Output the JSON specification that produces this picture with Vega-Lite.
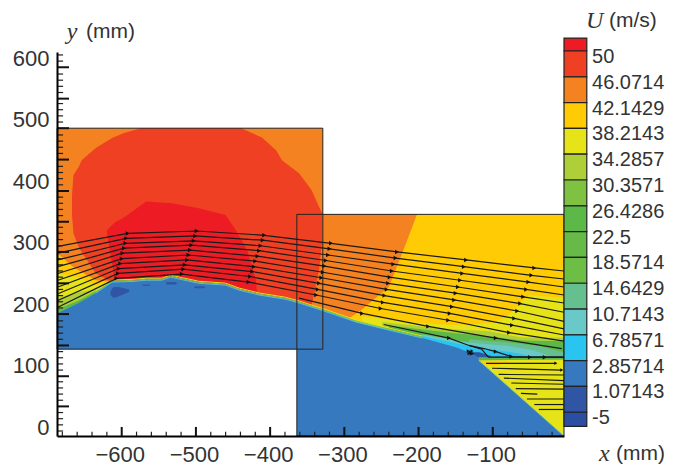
{"$schema":"https://vega.github.io/schema/vega-lite/v6.json","padding":{"left":12,"top":9,"right":0,"bottom":0},"spacing":0,"bounds":"flush","config":{"view":{"stroke":null}},
"datasets":{
"regions":[
{"r":"Rbase","b":"b3","x":-364,"y":346,"y0":100},{"r":"Rbase","b":"b3","x":-4,"y":346,"y0":100},
{"r":"Rorange","b":"b2","x":-364,"y":346,"y0":205},{"r":"Rorange","b":"b2","x":-330,"y":346,"y0":192},{"r":"Rorange","b":"b2","x":-294,"y":346,"y0":177},{"r":"Rorange","b":"b2","x":-278,"y":346,"y0":190},{"r":"Rorange","b":"b2","x":-240,"y":346,"y0":228},{"r":"Rorange","b":"b2","x":-222,"y":346,"y0":283},{"r":"Rorange","b":"b2","x":-202,"y":346,"y0":346},
{"r":"Ryellow","b":"b4","x":-276,"y":180,"y0":100},{"r":"Ryellow","b":"b4","x":-195,"y":169,"y0":100},{"r":"Ryellow","b":"b4","x":-150,"y":166,"y0":100},{"r":"Ryellow","b":"b4","x":-105,"y":169,"y0":100},{"r":"Ryellow","b":"b4","x":-82,"y":179,"y0":100},{"r":"Ryellow","b":"b4","x":-51,"y":215,"y0":100},{"r":"Ryellow","b":"b4","x":-4,"y":210,"y0":100},
{"r":"Rlime","b":"b5","x":-249,"y":171,"y0":100},{"r":"Rlime","b":"b5","x":-195,"y":164,"y0":100},{"r":"Rlime","b":"b5","x":-150,"y":159,"y0":100},{"r":"Rlime","b":"b5","x":-105,"y":156,"y0":100},{"r":"Rlime","b":"b5","x":-61,"y":146,"y0":100},{"r":"Rlime","b":"b5","x":-4,"y":146,"y0":100},
{"r":"Rgreen","b":"b7","x":-240,"y":166,"y0":100},{"r":"Rgreen","b":"b7","x":-195,"y":159,"y0":100},{"r":"Rgreen","b":"b7","x":-150,"y":153,"y0":100},{"r":"Rgreen","b":"b7","x":-105,"y":148,"y0":100},{"r":"Rgreen","b":"b7","x":-61,"y":141,"y0":100},{"r":"Rgreen","b":"b7","x":-4,"y":140,"y0":100},
{"r":"Rmint","b":"b10","x":-132,"y":143,"y0":100},{"r":"Rmint","b":"b10","x":-78,"y":138,"y0":100},{"r":"Rmint","b":"b10","x":-38,"y":132,"y0":100},{"r":"Rmint","b":"b10","x":-4,"y":122,"y0":100},
{"r":"Rteal","b":"b11","x":-195,"y":151,"y0":100},{"r":"Rteal","b":"b11","x":-132,"y":138,"y0":100},{"r":"Rteal","b":"b11","x":-78,"y":132,"y0":100},{"r":"Rteal","b":"b11","x":-44,"y":125,"y0":100},{"r":"Rteal","b":"b11","x":-22,"y":115,"y0":100},
{"r":"Rcyan","b":"b12","x":-195,"y":148,"y0":100},{"r":"Rcyan","b":"b12","x":-132,"y":132,"y0":100},{"r":"Rcyan","b":"b12","x":-92,"y":125,"y0":100},{"r":"Rcyan","b":"b12","x":-65,"y":120,"y0":100},{"r":"Rcyan","b":"b12","x":-51,"y":115,"y0":100},
{"r":"Rblue","b":"b13","x":-364,"y":203,"y0":-14},{"r":"Rblue","b":"b13","x":-330,"y":192,"y0":-14},{"r":"Rblue","b":"b13","x":-284,"y":171,"y0":-14},{"r":"Rblue","b":"b13","x":-240,"y":158,"y0":-14},{"r":"Rblue","b":"b13","x":-195,"y":145,"y0":-14},{"r":"Rblue","b":"b13","x":-150,"y":130,"y0":-14},{"r":"Rblue","b":"b13","x":-132,"y":122,"y0":-14},{"r":"Rblue","b":"b13","x":-105,"y":115,"y0":-14},{"r":"Rblue","b":"b13","x":-4,"y":115,"y0":-14},
{"r":"Rdark","b":"b14","x":-128,"y":122,"y0":120},{"r":"Rdark","b":"b14","x":-118,"y":122,"y0":113},{"r":"Rdark","b":"b14","x":-102,"y":116,"y0":113},
{"r":"Rchannel","b":"b7","x":-119,"y":114,"y0":109},{"r":"Rchannel","b":"b7","x":-4,"y":114,"y0":110},
{"r":"Rwedge","b":"b4","x":-119,"y":109,"y0":109},{"r":"Rwedge","b":"b4","x":-4,"y":110,"y0":-14},
{"r":"Rpatch","b":"b3","x":-115,"y":107,"y0":105},{"r":"Rpatch","b":"b3","x":-100,"y":107,"y0":100},{"r":"Rpatch","b":"b3","x":-78,"y":107,"y0":105},
{"r":"Lbase","b":"b2","x":-687,"y":486,"y0":127},{"r":"Lbase","b":"b2","x":-329,"y":486,"y0":127},
{"r":"Lhot","b":"b1","x":-667,"y":377,"y0":345},{"r":"Lhot","b":"b1","x":-665,"y":410,"y0":315},{"r":"Lhot","b":"b1","x":-658,"y":423,"y0":293},{"r":"Lhot","b":"b1","x":-654,"y":434,"y0":285},{"r":"Lhot","b":"b1","x":-635,"y":454,"y0":250},{"r":"Lhot","b":"b1","x":-613,"y":470,"y0":236},{"r":"Lhot","b":"b1","x":-597,"y":478,"y0":237},{"r":"Lhot","b":"b1","x":-574,"y":486,"y0":237},{"r":"Lhot","b":"b1","x":-439,"y":486,"y0":221},{"r":"Lhot","b":"b1","x":-411,"y":471,"y0":214},{"r":"Lhot","b":"b1","x":-392,"y":450,"y0":211},{"r":"Lhot","b":"b1","x":-384,"y":434,"y0":209},{"r":"Lhot","b":"b1","x":-361,"y":413,"y0":202},{"r":"Lhot","b":"b1","x":-344,"y":385,"y0":198},{"r":"Lhot","b":"b1","x":-334,"y":358,"y0":255},{"r":"Lhot","b":"b1","x":-330,"y":348,"y0":299},
{"r":"Lred","b":"b0","x":-620,"y":320,"y0":317},{"r":"Lred","b":"b0","x":-609,"y":333,"y0":237},{"r":"Lred","b":"b0","x":-597,"y":341,"y0":237},{"r":"Lred","b":"b0","x":-567,"y":367,"y0":239},{"r":"Lred","b":"b0","x":-532,"y":364,"y0":242},{"r":"Lred","b":"b0","x":-496,"y":356,"y0":234},{"r":"Lred","b":"b0","x":-460,"y":345,"y0":231},{"r":"Lred","b":"b0","x":-446,"y":320,"y0":226},{"r":"Lred","b":"b0","x":-431,"y":288,"y0":220},{"r":"Lred","b":"b0","x":-419,"y":239,"y0":216},{"r":"Lred","b":"b0","x":-418,"y":223,"y0":216},
{"r":"Fan3","b":"b3","x":-687,"y":283,"y0":180},{"r":"Fan3","b":"b3","x":-665,"y":260,"y0":190},{"r":"Fan3","b":"b3","x":-635,"y":239,"y0":210},{"r":"Fan3","b":"b3","x":-613,"y":236,"y0":230},
{"r":"Fan4","b":"b4","x":-687,"y":250,"y0":180},{"r":"Fan4","b":"b4","x":-658,"y":244,"y0":190},{"r":"Fan4","b":"b4","x":-635,"y":231,"y0":210},{"r":"Fan4","b":"b4","x":-613,"y":236,"y0":230},
{"r":"Fan5","b":"b5","x":-687,"y":210,"y0":180},{"r":"Fan5","b":"b5","x":-658,"y":220,"y0":190},{"r":"Fan5","b":"b5","x":-635,"y":224,"y0":210},{"r":"Fan5","b":"b5","x":-613,"y":236,"y0":230},
{"r":"Fan7","b":"b7","x":-687,"y":192,"y0":180},{"r":"Fan7","b":"b7","x":-658,"y":206,"y0":190},{"r":"Fan7","b":"b7","x":-635,"y":221,"y0":210},{"r":"Fan7","b":"b7","x":-613,"y":236,"y0":230},
{"r":"Lblue","b":"b13","x":-687,"y":185,"y0":127},{"r":"Lblue","b":"b13","x":-658,"y":202,"y0":127},{"r":"Lblue","b":"b13","x":-635,"y":218,"y0":127},{"r":"Lblue","b":"b13","x":-613,"y":236,"y0":127},{"r":"Lblue","b":"b13","x":-586,"y":237,"y0":127},{"r":"Lblue","b":"b13","x":-567,"y":239,"y0":127},{"r":"Lblue","b":"b13","x":-546,"y":239,"y0":127},{"r":"Lblue","b":"b13","x":-534,"y":244,"y0":127},{"r":"Lblue","b":"b13","x":-523,"y":241,"y0":127},{"r":"Lblue","b":"b13","x":-496,"y":234,"y0":127},{"r":"Lblue","b":"b13","x":-460,"y":231,"y0":127},{"r":"Lblue","b":"b13","x":-442,"y":223,"y0":127},{"r":"Lblue","b":"b13","x":-415,"y":215,"y0":127},{"r":"Lblue","b":"b13","x":-379,"y":208,"y0":127},{"r":"Lblue","b":"b13","x":-361,"y":202,"y0":127},{"r":"Lblue","b":"b13","x":-329,"y":190,"y0":127},
{"r":"Blob1","b":"b14","x":-615,"y":221,"y0":215},{"r":"Blob1","b":"b14","x":-611,"y":228,"y0":210},{"r":"Blob1","b":"b14","x":-604,"y":228,"y0":213},{"r":"Blob1","b":"b14","x":-590,"y":224,"y0":220},
{"r":"Blob2","b":"b14","x":-572,"y":232,"y0":230},{"r":"Blob2","b":"b14","x":-562,"y":232,"y0":230},
{"r":"Blob3","b":"b14","x":-540,"y":236,"y0":232},{"r":"Blob3","b":"b14","x":-526,"y":236,"y0":232},
{"r":"Blob4","b":"b14","x":-502,"y":229,"y0":226},{"r":"Blob4","b":"b14","x":-488,"y":229,"y0":226}
],
"wall":[{"x":-635,"y":218},{"x":-613,"y":236},{"x":-586,"y":237},{"x":-567,"y":239},{"x":-546,"y":239},{"x":-534,"y":244},{"x":-523,"y":241},{"x":-496,"y":234},{"x":-460,"y":231},{"x":-442,"y":223},{"x":-415,"y":215},{"x":-379,"y":208},{"x":-361,"y":202},{"x":-330,"y":190},{"x":-284,"y":171},{"x":-240,"y":158},{"x":-195,"y":145}],
"hypo":[{"x":-119,"y":109},{"x":-4,"y":-14}],
"flow":[
{"l":0,"s":0,"x":-686,"y":294},{"l":0,"s":1,"x":-592,"y":315},{"l":0,"s":2,"x":-499,"y":319},{"l":0,"s":3,"x":-408,"y":312},{"l":0,"s":4,"x":-318,"y":299},{"l":0,"s":5,"x":-229,"y":285},{"l":0,"s":6,"x":-136,"y":272},{"l":0,"s":7,"x":-44,"y":259},{"l":0,"s":8,"x":-4,"y":254},
{"l":1,"s":0,"x":-686,"y":283},{"l":1,"s":1,"x":-594,"y":307},{"l":1,"s":2,"x":-501,"y":311},{"l":1,"s":3,"x":-410,"y":304},{"l":1,"s":4,"x":-320,"y":290},{"l":1,"s":5,"x":-231,"y":275},{"l":1,"s":6,"x":-139,"y":261},{"l":1,"s":7,"x":-48,"y":247},{"l":1,"s":8,"x":-4,"y":241},
{"l":2,"s":0,"x":-686,"y":272},{"l":2,"s":1,"x":-595,"y":299},{"l":2,"s":2,"x":-503,"y":303},{"l":2,"s":3,"x":-413,"y":295},{"l":2,"s":4,"x":-322,"y":280},{"l":2,"s":5,"x":-234,"y":265},{"l":2,"s":6,"x":-141,"y":250},{"l":2,"s":7,"x":-52,"y":236},{"l":2,"s":8,"x":-4,"y":228},
{"l":3,"s":0,"x":-686,"y":261},{"l":3,"s":1,"x":-597,"y":291},{"l":3,"s":2,"x":-506,"y":296},{"l":3,"s":3,"x":-415,"y":287},{"l":3,"s":4,"x":-325,"y":271},{"l":3,"s":5,"x":-236,"y":254},{"l":3,"s":6,"x":-144,"y":239},{"l":3,"s":7,"x":-55,"y":224},{"l":3,"s":8,"x":-4,"y":215},
{"l":4,"s":0,"x":-686,"y":250},{"l":4,"s":1,"x":-599,"y":283},{"l":4,"s":2,"x":-508,"y":288},{"l":4,"s":3,"x":-417,"y":278},{"l":4,"s":4,"x":-327,"y":262},{"l":4,"s":5,"x":-239,"y":244},{"l":4,"s":6,"x":-147,"y":228},{"l":4,"s":7,"x":-59,"y":212},{"l":4,"s":8,"x":-4,"y":202},
{"l":5,"s":0,"x":-686,"y":239},{"l":5,"s":1,"x":-600,"y":274},{"l":5,"s":2,"x":-510,"y":280},{"l":5,"s":3,"x":-420,"y":270},{"l":5,"s":4,"x":-329,"y":252},{"l":5,"s":5,"x":-241,"y":234},{"l":5,"s":6,"x":-150,"y":218},{"l":5,"s":7,"x":-63,"y":201},{"l":5,"s":8,"x":-4,"y":187},
{"l":6,"s":0,"x":-686,"y":228},{"l":6,"s":1,"x":-602,"y":266},{"l":6,"s":2,"x":-512,"y":272},{"l":6,"s":3,"x":-422,"y":261},{"l":6,"s":4,"x":-331,"y":243},{"l":6,"s":5,"x":-243,"y":224},{"l":6,"s":6,"x":-152,"y":207},{"l":6,"s":7,"x":-67,"y":189},{"l":6,"s":8,"x":-4,"y":172},
{"l":7,"s":0,"x":-686,"y":217},{"l":7,"s":1,"x":-604,"y":258},{"l":7,"s":2,"x":-515,"y":264},{"l":7,"s":3,"x":-424,"y":253},{"l":7,"s":4,"x":-334,"y":234},{"l":7,"s":5,"x":-246,"y":214},{"l":7,"s":6,"x":-155,"y":196},{"l":7,"s":7,"x":-71,"y":177},{"l":7,"s":8,"x":-4,"y":160},
{"l":8,"s":0,"x":-686,"y":206},{"l":8,"s":1,"x":-605,"y":250},{"l":8,"s":2,"x":-517,"y":257},{"l":8,"s":3,"x":-427,"y":245},{"l":8,"s":4,"x":-336,"y":224},{"l":8,"s":5,"x":-248,"y":203},{"l":8,"s":6,"x":-158,"y":185},{"l":8,"s":7,"x":-74,"y":166},{"l":8,"s":8,"x":-4,"y":150},
{"l":9,"s":0,"x":-686,"y":195},{"l":9,"s":1,"x":-607,"y":242},{"l":9,"s":2,"x":-519,"y":249},{"l":9,"s":3,"x":-429,"y":236},{"l":9,"s":4,"x":-338,"y":215},{"l":9,"s":5,"x":-251,"y":193},{"l":9,"s":6,"x":-160,"y":174},{"l":9,"s":7,"x":-78,"y":154},{"l":9,"s":8,"x":-4,"y":140},
{"l":10,"s":0,"x":-361,"y":210},{"l":10,"s":1,"x":-276,"y":185},{"l":10,"s":2,"x":-187,"y":164},{"l":10,"s":3,"x":-96,"y":145},{"l":10,"s":8,"x":-7,"y":128},
{"l":11,"s":0,"x":-247,"y":167},{"l":11,"s":1,"x":-159,"y":145},{"l":11,"s":0,"x":-132,"y":133},{"l":11,"s":0,"x":-112,"y":128},{"l":11,"s":1,"x":-96,"y":123},{"l":11,"s":1,"x":-75,"y":115},{"l":11,"s":1,"x":-50,"y":114},{"l":11,"s":1,"x":-30,"y":114},{"l":11,"s":8,"x":-4,"y":114},
{"l":12,"s":0,"x":-132,"y":133},{"l":12,"s":0,"x":-115,"y":127},{"l":12,"s":0,"x":-106,"y":114},{"l":12,"s":8,"x":-4,"y":114}
],
"wedgeFlow":[{"l":0,"x":-109,"y":104},{"l":0,"x":-15,"y":104},{"l":1,"x":-101,"y":96},{"l":1,"x":-7,"y":93},{"l":2,"x":-92,"y":86},{"l":2,"x":-4,"y":85},{"l":3,"x":-85,"y":80},{"l":3,"x":-4,"y":76},{"l":4,"x":-75,"y":72},{"l":4,"x":-4,"y":70},{"l":5,"x":-69,"y":63},{"l":5,"x":-4,"y":62},{"l":6,"x":-62,"y":55},{"l":6,"x":-40,"y":54},{"l":7,"x":-54,"y":46},{"l":7,"x":-4,"y":46},{"l":8,"x":-44,"y":37},{"l":8,"x":-4,"y":37},{"l":9,"x":-38,"y":29},{"l":9,"x":-4,"y":29}],
"marks":[{"x":-15,"y":104},{"x":-7,"y":93},{"x":-130,"y":122},{"x":-128,"y":124},{"x":-132,"y":120},{"x":-127,"y":120},{"x":-133,"y":124},{"x":-129,"y":119}],
"box":[{"x":-687,"x2":-329,"y":486,"y2":127},{"x":-364,"x2":-4,"y":346,"y2":-14}],
"yMajor":[{"x":-687,"x2":-671,"y":34},{"x":-687,"x2":-671,"y":83},{"x":-687,"x2":-671,"y":133},{"x":-687,"x2":-671,"y":184},{"x":-687,"x2":-671,"y":234},{"x":-687,"x2":-671,"y":285},{"x":-687,"x2":-671,"y":334},{"x":-687,"x2":-671,"y":384},{"x":-687,"x2":-671,"y":435},{"x":-687,"x2":-671,"y":486},{"x":-687,"x2":-671,"y":534},{"x":-687,"x2":-671,"y":585}],
"yMinor":[{"x":-687,"x2":-679,"y":-6},{"x":-687,"x2":-679,"y":4},{"x":-687,"x2":-679,"y":14},{"x":-687,"x2":-679,"y":24},{"x":-687,"x2":-679,"y":44},{"x":-687,"x2":-679,"y":54},{"x":-687,"x2":-679,"y":64},{"x":-687,"x2":-679,"y":74},{"x":-687,"x2":-679,"y":93},{"x":-687,"x2":-679,"y":103},{"x":-687,"x2":-679,"y":113},{"x":-687,"x2":-679,"y":123},{"x":-687,"x2":-679,"y":143},{"x":-687,"x2":-679,"y":153},{"x":-687,"x2":-679,"y":163},{"x":-687,"x2":-679,"y":173},{"x":-687,"x2":-679,"y":194},{"x":-687,"x2":-679,"y":204},{"x":-687,"x2":-679,"y":214},{"x":-687,"x2":-679,"y":224},{"x":-687,"x2":-679,"y":244},{"x":-687,"x2":-679,"y":254},{"x":-687,"x2":-679,"y":264},{"x":-687,"x2":-679,"y":274},{"x":-687,"x2":-679,"y":295},{"x":-687,"x2":-679,"y":305},{"x":-687,"x2":-679,"y":315},{"x":-687,"x2":-679,"y":325},{"x":-687,"x2":-679,"y":344},{"x":-687,"x2":-679,"y":354},{"x":-687,"x2":-679,"y":364},{"x":-687,"x2":-679,"y":374},{"x":-687,"x2":-679,"y":394},{"x":-687,"x2":-679,"y":404},{"x":-687,"x2":-679,"y":414},{"x":-687,"x2":-679,"y":424},{"x":-687,"x2":-679,"y":445},{"x":-687,"x2":-679,"y":455},{"x":-687,"x2":-679,"y":465},{"x":-687,"x2":-679,"y":475},{"x":-687,"x2":-679,"y":496},{"x":-687,"x2":-679,"y":506},{"x":-687,"x2":-679,"y":516},{"x":-687,"x2":-679,"y":526},{"x":-687,"x2":-679,"y":544},{"x":-687,"x2":-679,"y":554},{"x":-687,"x2":-679,"y":564},{"x":-687,"x2":-679,"y":574},{"x":-687,"x2":-679,"y":595},{"x":-687,"x2":-679,"y":605}],
"xMajor":[{"x":-600,"y":-14,"y2":0.6},{"x":-500,"y":-14,"y2":0.6},{"x":-400,"y":-14,"y2":0.6},{"x":-300,"y":-14,"y2":0.6},{"x":-200,"y":-14,"y2":0.6},{"x":-100,"y":-14,"y2":0.6}],
"xMinor":[{"x":-680,"y":-14,"y2":-7},{"x":-660,"y":-14,"y2":-7},{"x":-640,"y":-14,"y2":-7},{"x":-620,"y":-14,"y2":-7},{"x":-580,"y":-14,"y2":-7},{"x":-560,"y":-14,"y2":-7},{"x":-540,"y":-14,"y2":-7},{"x":-520,"y":-14,"y2":-7},{"x":-480,"y":-14,"y2":-7},{"x":-460,"y":-14,"y2":-7},{"x":-440,"y":-14,"y2":-7},{"x":-420,"y":-14,"y2":-7},{"x":-380,"y":-14,"y2":-7},{"x":-360,"y":-14,"y2":-7},{"x":-340,"y":-14,"y2":-7},{"x":-320,"y":-14,"y2":-7},{"x":-280,"y":-14,"y2":-7},{"x":-260,"y":-14,"y2":-7},{"x":-240,"y":-14,"y2":-7},{"x":-220,"y":-14,"y2":-7},{"x":-180,"y":-14,"y2":-7},{"x":-160,"y":-14,"y2":-7},{"x":-140,"y":-14,"y2":-7},{"x":-120,"y":-14,"y2":-7},{"x":-80,"y":-14,"y2":-7},{"x":-60,"y":-14,"y2":-7},{"x":-40,"y":-14,"y2":-7},{"x":-20,"y":-14,"y2":-7}],
"legend":[{"b":"b0","lo":-0.5,"hi":0},{"b":"b1","lo":0,"hi":1},{"b":"b2","lo":1,"hi":2},{"b":"b3","lo":2,"hi":3},{"b":"b4","lo":3,"hi":4},{"b":"b5","lo":4,"hi":5},{"b":"b6","lo":5,"hi":6},{"b":"b7","lo":6,"hi":7},{"b":"b8","lo":7,"hi":8},{"b":"b9","lo":8,"hi":9},{"b":"b10","lo":9,"hi":10},{"b":"b11","lo":10,"hi":11},{"b":"b12","lo":11,"hi":12},{"b":"b13","lo":12,"hi":13},{"b":"b14","lo":13,"hi":14},{"b":"b15","lo":14,"hi":14.55}],
"legendText":[{"pos":0.23,"t":"50"},{"pos":1.23,"t":"46.0714"},{"pos":2.23,"t":"42.1429"},{"pos":3.23,"t":"38.2143"},{"pos":4.23,"t":"34.2857"},{"pos":5.23,"t":"30.3571"},{"pos":6.23,"t":"26.4286"},{"pos":7.23,"t":"22.5"},{"pos":8.23,"t":"18.5714"},{"pos":9.23,"t":"14.6429"},{"pos":10.23,"t":"10.7143"},{"pos":11.23,"t":"6.78571"},{"pos":12.23,"t":"2.85714"},{"pos":13.23,"t":"1.07143"},{"pos":14.23,"t":"-5"}]
},
"hconcat":[
{"width":507,"height":384,
"encoding":{"x":{"field":"x","type":"quantitative","scale":{"domain":[-687.2,-4],"nice":false,"zero":false},"axis":{"title":null,"values":[-600,-500,-400,-300,-200,-100],"grid":false,"tickSize":0,"labelPadding":8,"labelFontSize":22,"labelFont":"Liberation Sans","labelColor":"#333333","labelOffset":-2,"domainColor":"#000000","domainWidth":2,"zindex":1,"labelOverlap":false}},"y":{"field":"y","type":"quantitative","scale":{"domain":[-14.1,609.8],"nice":false,"zero":false},"axis":{"title":null,"values":[0,100,200,300,400,500,600],"grid":false,"tickSize":0,"labelPadding":8,"labelFontSize":22,"labelFont":"Liberation Sans","labelColor":"#333333","domainColor":"#000000","domainWidth":2,"zindex":1,"labelOverlap":false}}},
"layer":[
{"data":{"name":"regions"},"mark":{"type":"area","interpolate":"linear"},"encoding":{"y2":{"field":"y0"},"detail":{"field":"r"},"color":{"field":"b","type":"nominal","legend":null,"scale":{"domain":["b0","b1","b2","b3","b4","b5","b6","b7","b8","b9","b10","b11","b12","b13","b14","b15"],"range":["#ED1C24","#F04023","#F58220","#FFCB05","#E6E318","#AFCF38","#7FC241","#5DB947","#67BA47","#6DBE45","#66BF8F","#69C8C8","#29C4F0","#3779BF","#2F55A4","#2A4EA2"]}}}},
{"data":{"name":"wall"},"mark":{"type":"line","color":"#E6E318","strokeWidth":1,"yOffset":-2}},
{"data":{"name":"wall"},"mark":{"type":"line","color":"#7FC241","strokeWidth":1,"yOffset":-1}},
{"data":{"name":"wall"},"mark":{"type":"line","color":"#4FC4D8","strokeWidth":1}},
{"data":{"name":"hypo"},"mark":{"type":"line","color":"#8CCB8C","strokeWidth":1}},
{"data":{"name":"box"},"mark":{"type":"rect","fillOpacity":0,"stroke":"#222222","strokeWidth":1},"encoding":{"x2":{"field":"x2"},"y2":{"field":"y2"}}},
{"data":{"name":"flow"},"mark":{"type":"line","color":"#1a1a1a","strokeWidth":1.2},"encoding":{"detail":{"field":"l"}}},
{"data":{"name":"wedgeFlow"},"mark":{"type":"line","color":"#1a1a1a","strokeWidth":1.2},"encoding":{"detail":{"field":"l"}}},
{"data":{"name":"flow"},"transform":[{"filter":"datum.s>0&&datum.s<8"}],"mark":{"type":"point","shape":"triangle-right","filled":true,"size":20,"color":"#111111","opacity":1}},
{"data":{"name":"marks"},"mark":{"type":"point","shape":"triangle-right","filled":true,"size":12,"color":"#111111","opacity":1}},
{"data":{"name":"yMajor"},"mark":{"type":"rule","color":"#111111","strokeWidth":2},"encoding":{"x2":{"field":"x2"}}},
{"data":{"name":"yMinor"},"mark":{"type":"rule","color":"#222222","strokeWidth":1.2},"encoding":{"x2":{"field":"x2"}}},
{"data":{"name":"xMajor"},"mark":{"type":"rule","color":"#111111","strokeWidth":2},"encoding":{"y2":{"field":"y2"}}},
{"data":{"name":"xMinor"},"mark":{"type":"rule","color":"#222222","strokeWidth":1.2},"encoding":{"y2":{"field":"y2"}}},
{"data":{"values":[{"x":-674,"y":642,"t":"y"},{"x":43,"y":-44,"t":"x"}]},"mark":{"type":"text","align":"left","baseline":"middle","font":"Liberation Serif","fontStyle":"italic","fontSize":24,"color":"#333333"},"encoding":{"text":{"field":"t"}}},
{"data":{"values":[{"x":-648,"y":642,"t":"(mm)"},{"x":66,"y":-44,"t":"(mm)"}]},"mark":{"type":"text","align":"left","baseline":"middle","font":"Liberation Sans","fontSize":21,"color":"#333333"},"encoding":{"text":{"field":"t"}}}
]},
{"width":114,"height":384,
"layer":[
{"data":{"name":"legend"},"mark":{"type":"rect","stroke":"#222222","strokeWidth":1.2},"encoding":{"x":{"datum":0,"type":"quantitative","scale":{"domain":[0,1]},"axis":null},"x2":{"datum":0.2},"y":{"field":"lo","type":"quantitative","scale":{"domain":[14.92,0.039],"nice":false,"zero":false},"axis":null},"y2":{"field":"hi"},"color":{"field":"b","type":"nominal","legend":null,"scale":{"domain":["b0","b1","b2","b3","b4","b5","b6","b7","b8","b9","b10","b11","b12","b13","b14","b15"],"range":["#ED1C24","#F04023","#F58220","#FFCB05","#E6E318","#AFCF38","#7FC241","#5DB947","#67BA47","#6DBE45","#66BF8F","#69C8C8","#29C4F0","#3779BF","#2F55A4","#2A4EA2"]}}}},
{"data":{"name":"legendText"},"mark":{"type":"text","align":"left","baseline":"middle","font":"Liberation Sans","fontSize":20,"color":"#333333"},"encoding":{"x":{"datum":0.246,"type":"quantitative","scale":{"domain":[0,1]},"axis":null},"y":{"field":"pos","type":"quantitative","scale":{"domain":[14.92,0.039],"nice":false,"zero":false},"axis":null},"text":{"field":"t"}}},
{"data":{"values":[{"pos":-1.16,"t":"U"}]},"mark":{"type":"text","align":"left","baseline":"middle","font":"Liberation Serif","fontStyle":"italic","fontSize":24,"color":"#333333"},"encoding":{"x":{"datum":0.193,"type":"quantitative","scale":{"domain":[0,1]},"axis":null},"y":{"field":"pos","type":"quantitative","scale":{"domain":[14.92,0.039],"nice":false,"zero":false},"axis":null},"text":{"field":"t"}}},
{"data":{"values":[{"pos":-1.16,"t":"(m/s)"}]},"mark":{"type":"text","align":"left","baseline":"middle","font":"Liberation Sans","fontSize":21,"color":"#333333"},"encoding":{"x":{"datum":0.395,"type":"quantitative","scale":{"domain":[0,1]},"axis":null},"y":{"field":"pos","type":"quantitative","scale":{"domain":[14.92,0.039],"nice":false,"zero":false},"axis":null},"text":{"field":"t"}}}
]}
]}
